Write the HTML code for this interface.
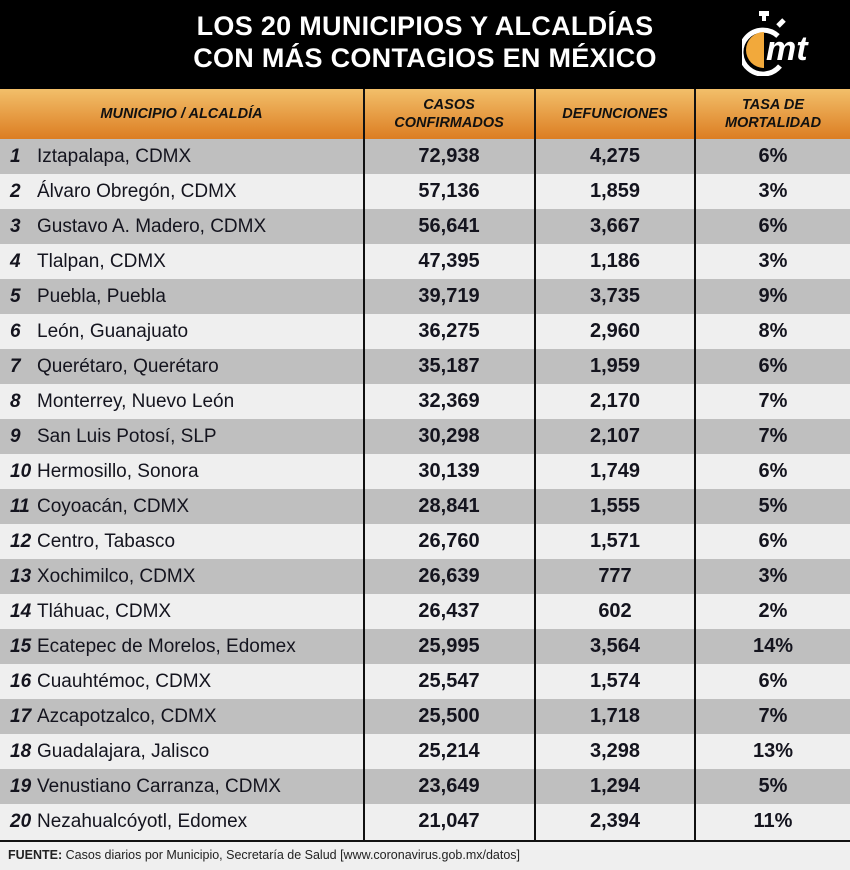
<!DOCTYPE html>
<html><head><meta charset="utf-8"><style>
*{margin:0;padding:0;box-sizing:border-box}
body{width:850px;height:870px;background:#efefef;font-family:"Liberation Sans",sans-serif;position:relative;overflow:hidden}
#hdr{position:absolute;left:0;top:0;width:850px;height:89px;background:#000}
#title{position:absolute;left:0;width:850px;top:10px;text-align:center;color:#fff;font-weight:bold;font-size:27px;line-height:32px;letter-spacing:0.3px}
#th{position:absolute;left:0;top:89px;width:850px;height:50px;background:linear-gradient(#f2bf6a,#dc7d22)}
.hc{position:absolute;top:0;height:50px;display:flex;align-items:center;justify-content:center;text-align:center;font-style:italic;font-weight:bold;font-size:14.5px;line-height:18px;color:#111}
.row{position:absolute;left:0;width:850px;height:35px}
.row div{position:absolute;top:0;height:35px;line-height:35px;color:#14141e;font-size:19px}
.n{left:10px;font-style:italic;font-weight:bold}
.nm{left:37px}
.c{font-weight:bold;text-align:center;font-size:20px!important}
.vl{position:absolute;top:89px;height:752px;width:1.5px;background:#111;z-index:5}
#foot{position:absolute;left:8px;top:848px;font-size:12.5px;color:#222}
</style></head><body>
<div id="hdr"></div>
<div id="title">LOS 20 MUNICIPIOS Y ALCALDÍAS<br>CON MÁS CONTAGIOS EN MÉXICO</div>
<svg style="position:absolute;left:742px;top:8px" width="85" height="68" viewBox="0 0 85 68">
<rect x="17" y="3" width="10" height="5" fill="#fff"/><rect x="20" y="7" width="4" height="6" fill="#fff"/>
<line x1="36" y1="18" x2="42" y2="12" stroke="#fff" stroke-width="5"/>
<path d="M36 28 A22 22 0 1 0 38 58" fill="none" stroke="#fff" stroke-width="5"/>
<path d="M22 24 A18 18 0 0 0 22 60 Z" fill="#f2a93b"/>
<text x="24" y="52" fill="#fff" font-family="Liberation Sans" font-weight="bold" font-style="italic" font-size="34">mt</text>
</svg>
<div id="th">
<div class="hc" style="left:0;width:363px">MUNICIPIO / ALCALDÍA</div>
<div class="hc" style="left:364px;width:170px">CASOS<br>CONFIRMADOS</div>
<div class="hc" style="left:535px;width:160px">DEFUNCIONES</div>
<div class="hc" style="left:696px;width:154px">TASA DE<br>MORTALIDAD</div>
</div>
<div style="position:absolute;left:0;top:139px">
<div class="row" style="top:0;background:#bfbfbf"><div class="n">1</div><div class="nm">Iztapalapa, CDMX</div><div class="c" style="left:364px;width:170px">72,938</div><div class="c" style="left:535px;width:160px">4,275</div><div class="c" style="left:696px;width:154px">6%</div></div>
<div class="row" style="top:35px;background:#efefef"><div class="n">2</div><div class="nm">Álvaro Obregón, CDMX</div><div class="c" style="left:364px;width:170px">57,136</div><div class="c" style="left:535px;width:160px">1,859</div><div class="c" style="left:696px;width:154px">3%</div></div>
<div class="row" style="top:70px;background:#bfbfbf"><div class="n">3</div><div class="nm">Gustavo A. Madero, CDMX</div><div class="c" style="left:364px;width:170px">56,641</div><div class="c" style="left:535px;width:160px">3,667</div><div class="c" style="left:696px;width:154px">6%</div></div>
<div class="row" style="top:105px;background:#efefef"><div class="n">4</div><div class="nm">Tlalpan, CDMX</div><div class="c" style="left:364px;width:170px">47,395</div><div class="c" style="left:535px;width:160px">1,186</div><div class="c" style="left:696px;width:154px">3%</div></div>
<div class="row" style="top:140px;background:#bfbfbf"><div class="n">5</div><div class="nm">Puebla, Puebla</div><div class="c" style="left:364px;width:170px">39,719</div><div class="c" style="left:535px;width:160px">3,735</div><div class="c" style="left:696px;width:154px">9%</div></div>
<div class="row" style="top:175px;background:#efefef"><div class="n">6</div><div class="nm">León, Guanajuato</div><div class="c" style="left:364px;width:170px">36,275</div><div class="c" style="left:535px;width:160px">2,960</div><div class="c" style="left:696px;width:154px">8%</div></div>
<div class="row" style="top:210px;background:#bfbfbf"><div class="n">7</div><div class="nm">Querétaro, Querétaro</div><div class="c" style="left:364px;width:170px">35,187</div><div class="c" style="left:535px;width:160px">1,959</div><div class="c" style="left:696px;width:154px">6%</div></div>
<div class="row" style="top:245px;background:#efefef"><div class="n">8</div><div class="nm">Monterrey, Nuevo León</div><div class="c" style="left:364px;width:170px">32,369</div><div class="c" style="left:535px;width:160px">2,170</div><div class="c" style="left:696px;width:154px">7%</div></div>
<div class="row" style="top:280px;background:#bfbfbf"><div class="n">9</div><div class="nm">San Luis Potosí, SLP</div><div class="c" style="left:364px;width:170px">30,298</div><div class="c" style="left:535px;width:160px">2,107</div><div class="c" style="left:696px;width:154px">7%</div></div>
<div class="row" style="top:315px;background:#efefef"><div class="n">10</div><div class="nm">Hermosillo, Sonora</div><div class="c" style="left:364px;width:170px">30,139</div><div class="c" style="left:535px;width:160px">1,749</div><div class="c" style="left:696px;width:154px">6%</div></div>
<div class="row" style="top:350px;background:#bfbfbf"><div class="n">11</div><div class="nm">Coyoacán, CDMX</div><div class="c" style="left:364px;width:170px">28,841</div><div class="c" style="left:535px;width:160px">1,555</div><div class="c" style="left:696px;width:154px">5%</div></div>
<div class="row" style="top:385px;background:#efefef"><div class="n">12</div><div class="nm">Centro, Tabasco</div><div class="c" style="left:364px;width:170px">26,760</div><div class="c" style="left:535px;width:160px">1,571</div><div class="c" style="left:696px;width:154px">6%</div></div>
<div class="row" style="top:420px;background:#bfbfbf"><div class="n">13</div><div class="nm">Xochimilco, CDMX</div><div class="c" style="left:364px;width:170px">26,639</div><div class="c" style="left:535px;width:160px">777</div><div class="c" style="left:696px;width:154px">3%</div></div>
<div class="row" style="top:455px;background:#efefef"><div class="n">14</div><div class="nm">Tláhuac, CDMX</div><div class="c" style="left:364px;width:170px">26,437</div><div class="c" style="left:535px;width:160px">602</div><div class="c" style="left:696px;width:154px">2%</div></div>
<div class="row" style="top:490px;background:#bfbfbf"><div class="n">15</div><div class="nm">Ecatepec de Morelos, Edomex</div><div class="c" style="left:364px;width:170px">25,995</div><div class="c" style="left:535px;width:160px">3,564</div><div class="c" style="left:696px;width:154px">14%</div></div>
<div class="row" style="top:525px;background:#efefef"><div class="n">16</div><div class="nm">Cuauhtémoc, CDMX</div><div class="c" style="left:364px;width:170px">25,547</div><div class="c" style="left:535px;width:160px">1,574</div><div class="c" style="left:696px;width:154px">6%</div></div>
<div class="row" style="top:560px;background:#bfbfbf"><div class="n">17</div><div class="nm">Azcapotzalco, CDMX</div><div class="c" style="left:364px;width:170px">25,500</div><div class="c" style="left:535px;width:160px">1,718</div><div class="c" style="left:696px;width:154px">7%</div></div>
<div class="row" style="top:595px;background:#efefef"><div class="n">18</div><div class="nm">Guadalajara, Jalisco</div><div class="c" style="left:364px;width:170px">25,214</div><div class="c" style="left:535px;width:160px">3,298</div><div class="c" style="left:696px;width:154px">13%</div></div>
<div class="row" style="top:630px;background:#bfbfbf"><div class="n">19</div><div class="nm">Venustiano Carranza, CDMX</div><div class="c" style="left:364px;width:170px">23,649</div><div class="c" style="left:535px;width:160px">1,294</div><div class="c" style="left:696px;width:154px">5%</div></div>
<div class="row" style="top:665px;background:#efefef"><div class="n">20</div><div class="nm">Nezahualcóyotl, Edomex</div><div class="c" style="left:364px;width:170px">21,047</div><div class="c" style="left:535px;width:160px">2,394</div><div class="c" style="left:696px;width:154px">11%</div></div>
</div>
<div class="vl" style="left:363px"></div><div class="vl" style="left:534px"></div><div class="vl" style="left:694px"></div>
<div style="position:absolute;left:0;top:840px;width:850px;height:2px;background:#111;z-index:5"></div>
<div id="foot"><b>FUENTE:</b> Casos diarios por Municipio, Secretaría de Salud [www.coronavirus.gob.mx/datos]</div>
</body></html>
